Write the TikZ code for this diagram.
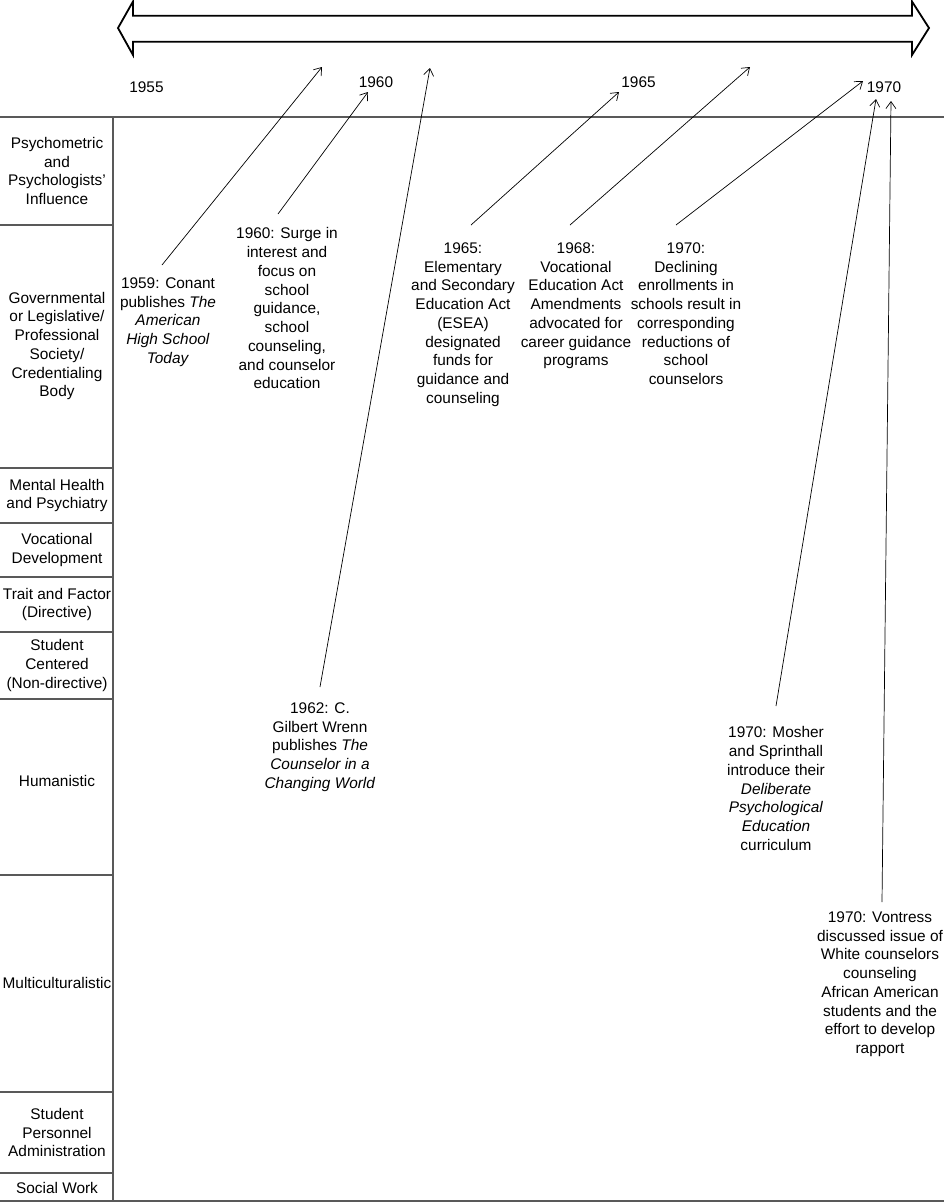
\documentclass[tikz,border=0pt]{standalone}
\usepackage{fontspec}
\setmainfont{Liberation Sans}
\usetikzlibrary{arrows.meta}

\tikzset{
  rowlabel/.style={align=center,inner sep=0pt},
  event/.style={align=center,inner sep=0pt,anchor=north},
  yearlabel/.style={inner sep=0pt},
  gridline/.style={draw=black!65,line width=1.6pt},
  conn/.style={-{Straight Barb[length=7pt,width=10pt]},line width=0.7pt},
}

\begin{document}
\begin{tikzpicture}[x=1pt,y=-1pt,every node/.style={font=\fontsize{15.4}{18.75}\selectfont}]
\useasboundingbox (0,0) rectangle (944,1203);
% time span arrow
\draw[line width=1.8pt,line join=miter] (118,28) -- (133,1.5) -- (133,15.7) -- (912,15.7) -- (912,1.5) -- (929,28) -- (912,55) -- (912,41.7) -- (133,41.7) -- (133,55) -- cycle;
% years
\node[yearlabel] (y55) at (146.5,87) {1955};
\node[yearlabel] (y60) at (376,82) {1960};
\node[yearlabel] (y65) at (638.5,82) {1965};
\node[yearlabel] (y70) at (884,87) {1970};
% table frame
\draw[gridline] (0,117) -- (944,117);
\draw[gridline] (113,117) -- (113,1201);
\draw[gridline] (0,1201) -- (944,1201);
\foreach \y in {225,468,523,577,632,699,875,1092,1173}
  \draw[gridline] (0,\y) -- (113,\y);
% rows
\node[rowlabel] (psy) at (57,171) {Psychometric\\and\\Psychologists’\\Influence};
\node[rowlabel] (gov) at (57,346) {Governmental\\or Legislative/\\Professional\\Society/\\Credentialing\\Body};
\node[rowlabel] (mhp) at (57,495.5) {Mental Health\\and Psychiatry};
\node[rowlabel] (voc) at (57,550) {Vocational\\Development};
\node[rowlabel] (tf) at (57,604.5) {Trait and Factor\\(Directive)};
\node[rowlabel] (sc) at (57,665.5) {Student\\Centered\\(Non-directive)};
\node[rowlabel] (hum) at (57,781) {Humanistic};
\node[rowlabel] (mc) at (57,983) {Multiculturalistic};
\node[rowlabel] (spa) at (57,1132.5) {Student\\Personnel\\Administration};
\node[rowlabel] (sw) at (57,1187.5) {Social Work};
% events
\node[event] (ev59) at (168,277.5) {1959: Conant\\publishes \textit{The}\\\textit{American}\\\textit{High School}\\\textit{Today}};
\node[event] (ev60) at (287,227.5) {1960: Surge in\\interest and\\focus on\\school\\guidance,\\school\\counseling,\\and counselor\\education};
\node[event] (ev62) at (320,702.5) {1962: C.\\Gilbert Wrenn\\publishes \textit{The}\\\textit{Counselor in a}\\\textit{Changing World}};
\node[event] (ev65) at (463,242.5) {1965:\\Elementary\\and Secondary\\Education Act\\(ESEA)\\designated\\funds for\\guidance and\\counseling};
\node[event] (ev68) at (576,242.5) {1968:\\Vocational\\Education Act\\Amendments\\advocated for\\career guidance\\programs};
\node[event] (ev70a) at (686,242.5) {1970:\\Declining\\enrollments in\\schools result in\\corresponding\\reductions of\\school\\counselors};
\node[event] (ev70b) at (776,726.5) {1970: Mosher\\and Sprinthall\\introduce their\\\textit{Deliberate}\\\textit{Psychological}\\\textit{Education}\\curriculum};
\node[event] (ev70c) at (880,911.5) {1970: Vontress\\discussed issue of\\White counselors\\counseling\\African American\\students and the\\effort to develop\\rapport};
% arrow tips on the time line
\coordinate (t59) at (322,67);
\coordinate (t60) at (368,92);
\coordinate (t62) at (430,68);
\coordinate (t65) at (619,92);
\coordinate (t68) at (750,67);
\coordinate (t70a) at (863,81);
\coordinate (t70b) at (876,99);
\coordinate (t70c) at (891,101);
\draw[conn] ([shift={(-6pt,12.5pt)}]ev59.north) -- (t59);
\draw[conn] ([shift={(-9pt,13.5pt)}]ev60.north) -- (t60);
\draw[conn] ([shift={(0pt,15.5pt)}]ev62.north) -- (t62);
\draw[conn] ([shift={(8pt,17.5pt)}]ev65.north) -- (t65);
\draw[conn] ([shift={(-6pt,17.5pt)}]ev68.north) -- (t68);
\draw[conn] ([shift={(-10pt,17.5pt)}]ev70a.north) -- (t70a);
\draw[conn] ([shift={(0pt,20.5pt)}]ev70b.north) -- (t70b);
\draw[conn] ([shift={(2pt,9.5pt)}]ev70c.north) -- (t70c);
\end{tikzpicture}
\end{document}
